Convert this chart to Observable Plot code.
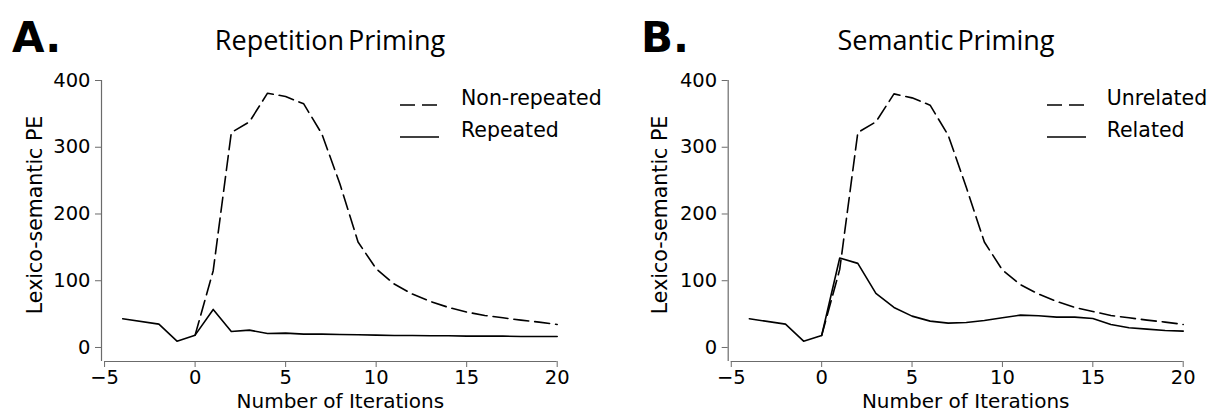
<!DOCTYPE html>
<html>
<head>
<meta charset="utf-8">
<script src="https://cdn.jsdelivr.net/npm/d3@7"></script>
<script src="https://cdn.jsdelivr.net/npm/@observablehq/plot@0.6"></script>
<style>
  html, body { margin: 0; padding: 0; background: #fff; }
  #root { position: relative; width: 1210px; height: 412px; overflow: hidden; background: #fff; }
  .abs { position: absolute; white-space: nowrap; }
  .panel-letter { font-family: "DejaVu Sans", sans-serif; font-weight: bold; font-size: 42px; line-height: 42px; color: #000; }
  .title { font-family: "Open Sans", "Noto Sans", sans-serif; font-size: 27px; line-height: 27px; color: #000; text-align: center; width: 400px; word-spacing: -3px; }
  .leg { font-family: "DejaVu Sans", sans-serif; font-size: 20.5px; line-height: 20.5px; color: #000; }
</style>
</head>
<body>
<div id="root"></div>
<script>
// ---------- data ----------
const iterations = [-4, -2, -1, 0, 1, 2, 3, 4, 5, 6, 7, 8, 9, 10, 11, 12, 13, 14, 15, 16, 17, 18, 19, 20];
const iterationsPost = [0, 1, 2, 3, 4, 5, 6, 7, 8, 9, 10, 11, 12, 13, 14, 15, 16, 17, 18, 19, 20];

// Panel A: Repetition priming
const repeated = [43, 35, 9.5, 18.5, 57, 24, 26, 21, 21.5, 20, 20, 19.5, 19, 18.5, 18, 18, 17.5, 17.5, 17, 17, 17, 16.5, 16.5, 16.5];
const nonRepeated = [18.5, 115, 322, 338, 381, 376, 365, 320, 245, 158, 118, 95, 80, 69, 60, 53, 48, 44.5, 41, 38, 34.5];

// Panel B: Semantic priming
const related = [43, 35, 9.5, 18, 134, 126, 81, 60, 47, 39.5, 36.5, 37.5, 40.5, 44.5, 48.5, 47.5, 45.5, 45.5, 43.5, 34.5, 29.5, 27.5, 25.5, 24.5];
const unrelated = [18, 117, 322, 338, 380, 374, 363, 318, 240, 158, 116, 94, 80, 69, 60, 54, 48, 44.5, 41, 38, 34.5];

const xTicks = [-5, 0, 5, 10, 15, 20];
const yTicks = [0, 100, 200, 300, 400];
const xDomain = [-5.17, 20];
const yDomain = [-21, 400];

const panelTitles = ["Repetition Priming", "Semantic Priming"];
const panelLetters = ["A.", "B."];
const legendA = ["Non-repeated", "Repeated"];
const legendB = ["Unrelated", "Related"];
const xLabel = "Number of Iterations";
const yLabel = "Lexico-semantic PE";

// ---------- drawing ----------
const axisColor = "#6b6b6b";
const root = document.getElementById("root");

function makePanel({marginLeft, marginRight, solid, dashed, xLabelDx, yLabelDx}) {
  const solidData = iterations.map((x, i) => ({x, y: solid[i]}));
  const dashedData = iterationsPost.map((x, i) => ({x, y: dashed[i]}));
  return Plot.plot({
    width: 605,
    height: 350,
    marginTop: 18,
    marginBottom: 51,
    marginLeft,
    marginRight,
    x: {domain: xDomain, label: null},
    y: {domain: yDomain, label: null},
    style: {fontFamily: "DejaVu Sans, sans-serif", color: "#000", background: "transparent", overflow: "visible"},
    marks: [
      Plot.ruleX([xDomain[0]], {y1: yDomain[0], y2: yDomain[1], stroke: axisColor, strokeWidth: 1.2}),
      Plot.ruleY([yDomain[0]], {x1: xTicks[0], x2: xTicks[xTicks.length - 1], stroke: axisColor, strokeWidth: 1.2}),
      Plot.axisX({ticks: xTicks, tickSize: 6, tickPadding: 3, fontSize: 19.5, stroke: axisColor, fill: "#000", label: null}),
      Plot.axisY({ticks: yTicks, tickSize: 6, tickPadding: 5, fontSize: 19.5, stroke: axisColor, fill: "#000", label: null}),
      Plot.line(dashedData, {x: "x", y: "y", stroke: "#000", strokeWidth: 1.6, strokeDasharray: "15,6"}),
      Plot.line(solidData, {x: "x", y: "y", stroke: "#000", strokeWidth: 1.6}),
      Plot.text([xLabel], {text: d => d, frameAnchor: "bottom", lineAnchor: "bottom", dy: 46.2, dx: xLabelDx, fontSize: 20, fill: "#000"}),
      Plot.text([yLabel], {text: d => d, frameAnchor: "left", rotate: -90, textAnchor: "middle", lineAnchor: "middle", dx: yLabelDx, dy: -6, fontSize: 20.5, fill: "#000"})
    ]
  });
}

function place(el, left, top) {
  const wrap = document.createElement("div");
  wrap.className = "abs";
  wrap.style.left = left + "px";
  wrap.style.top = top + "px";
  wrap.appendChild(el);
  root.appendChild(wrap);
  return wrap;
}

function addText(cls, text, left, top) {
  const d = document.createElement("div");
  d.className = "abs " + cls;
  d.style.left = left + "px";
  d.style.top = top + "px";
  d.textContent = text;
  root.appendChild(d);
}

function addLegend(labels, sampleLeft, textLeft) {
  const ys = [97, 129];
  labels.forEach((lab, i) => {
    const ns = "http://www.w3.org/2000/svg";
    const svg = document.createElementNS(ns, "svg");
    svg.setAttribute("width", 40);
    svg.setAttribute("height", 6);
    const ln = document.createElementNS(ns, "line");
    ln.setAttribute("x1", 0); ln.setAttribute("x2", 39);
    ln.setAttribute("y1", 3); ln.setAttribute("y2", 3);
    ln.setAttribute("stroke", "#000");
    ln.setAttribute("stroke-width", 1.6);
    if (i === 0) ln.setAttribute("stroke-dasharray", "15,7");
    svg.appendChild(ln);
    place(svg, sampleLeft, ys[i] - 3);
    addText("leg", lab, textLeft, ys[i] + 8 - 17.3);
  });
}

const A = makePanel({marginLeft: 101, marginRight: 48.3, solid: repeated, dashed: nonRepeated, xLabelDx: 11, yLabelDx: -66});
const B = makePanel({marginLeft: 122.7, marginRight: 27.3, solid: related, dashed: unrelated, xLabelDx: 10, yLabelDx: -67.7});
place(A, 0, 62);
place(B, 605, 62);

addText("panel-letter", panelLetters[0], 12, 16.5);
addText("panel-letter", panelLetters[1], 641, 16.5);
addText("title", panelTitles[0], 330 - 200, 26);
addText("title", panelTitles[1], 946 - 200, 26);

addLegend(legendA, 400, 461);
addLegend(legendB, 1046.7, 1106.7);
</script>
</body>
</html>
